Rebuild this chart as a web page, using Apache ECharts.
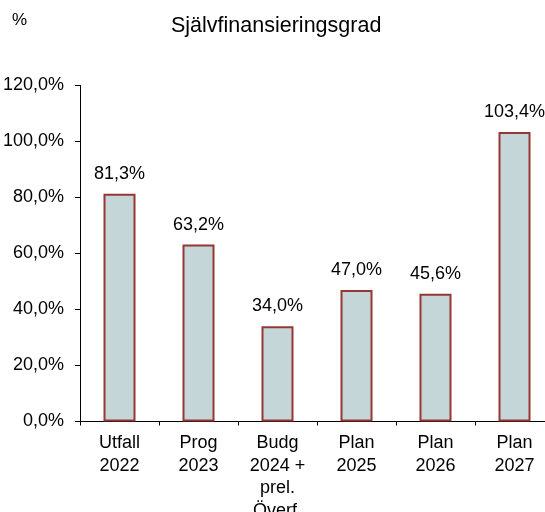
<!DOCTYPE html>
<html>
<head>
<meta charset="utf-8">
<script src="https://cdn.jsdelivr.net/npm/echarts@6/dist/echarts.min.js"></script>
<style>html,body{margin:0;padding:0;background:#fff}#c{width:545px;height:512px}</style>
</head>
<body>
<div id="c"></div>
<script>
const categories = ["Utfall\n2022", "Prog\n2023", "Budg\n2024 +\nprel.\nÖverf.", "Plan\n2025", "Plan\n2026", "Plan\n2027"];
const values = [81.3, 63.2, 34.0, 47.0, 45.6, 103.4];
const yTicks = [0, 20, 40, 60, 80, 100, 120];
const titleText = "Självfinansieringsgrad";
const unitText = "%";

const fmt = v => Number(v).toFixed(1).replace('.', ',') + '%';
const FONT = '"Liberation Sans", Arial, sans-serif';

const chart = echarts.init(document.getElementById('c'), null, {renderer: 'canvas'});
chart.setOption({
  animation: false,
  backgroundColor: '#fff',
  title: {
    text: titleText,
    left: 171,
    top: 15,
    padding: 0,
    textStyle: {fontFamily: FONT, fontSize: 21.5, fontWeight: 'normal', color: '#000'}
  },
  graphic: [{
    type: 'text',
    left: 12,
    top: 12,
    style: {text: unitText, font: '17px ' + FONT, fill: '#000'}
  }],
  grid: {left: 80, top: 85.5, bottom: 90.5, right: -9, containLabel: false, outerBoundsMode: 'none'},
  xAxis: {
    type: 'category',
    data: categories,
    axisLine: {lineStyle: {color: '#000', width: 1}},
    axisTick: {show: true, length: 4, lineStyle: {color: '#000'}},
    axisLabel: {
      interval: 0, margin: 10, color: '#000', fontFamily: FONT, fontSize: 18, lineHeight: 22.7
    }
  },
  yAxis: {
    type: 'value',
    min: yTicks[0],
    max: yTicks[yTicks.length - 1],
    interval: yTicks[1] - yTicks[0],
    splitLine: {show: false},
    axisLine: {show: true, lineStyle: {color: '#000', width: 1}},
    axisTick: {show: true, length: 5, lineStyle: {color: '#000'}},
    axisLabel: {margin: 16, color: '#000', fontFamily: FONT, fontSize: 18, formatter: fmt}
  },
  series: [{
    type: 'bar',
    data: values,
    barWidth: 32,
    itemStyle: {color: '#c5d6d9', borderColor: '#953735', borderWidth: 2},
    label: {
      show: true, position: 'top', distance: 11,
      color: '#000', fontFamily: FONT, fontSize: 18,
      formatter: p => fmt(p.value)
    }
  }]
});
</script>
</body>
</html>
